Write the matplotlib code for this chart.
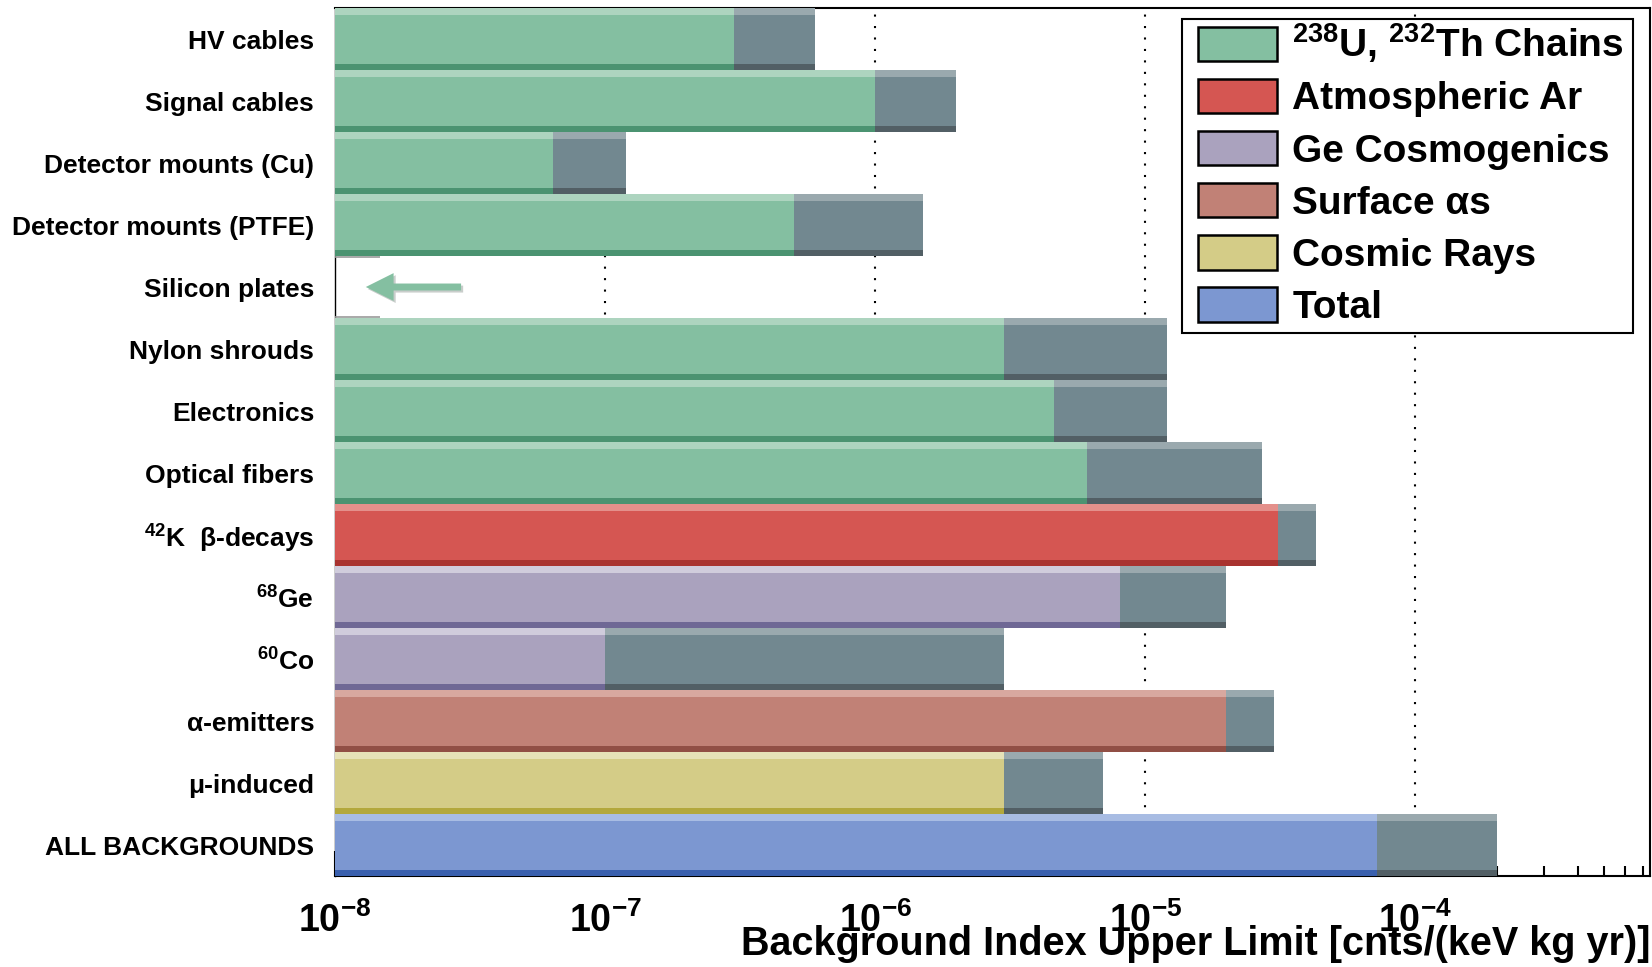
import numpy as np
import matplotlib
matplotlib.use("Agg")
import matplotlib.pyplot as plt
from matplotlib.patches import Patch, Rectangle
from matplotlib.ticker import FixedLocator, FuncFormatter, LogLocator, NullFormatter
import matplotlib.patheffects as pe

plt.rcParams['font.family'] = ['Liberation Sans', 'DejaVu Sans']
plt.rcParams['font.weight'] = 'bold'
plt.rcParams['mathtext.fontset'] = 'custom'
plt.rcParams['mathtext.rm'] = 'Liberation Sans'
plt.rcParams['mathtext.bf'] = 'Liberation Sans:bold'
plt.rcParams['mathtext.default'] = 'regular'

# ---------------- data ----------------
labels = ["HV cables", "Signal cables", "Detector mounts (Cu)", "Detector mounts (PTFE)",
          "Silicon plates", "Nylon shrouds", "Electronics", "Optical fibers",
          "$^{42}$K  \u03b2-decays", "$^{68}$Ge", "$^{60}$Co", "\u03b1-emitters",
          "\u03bc-induced", "ALL BACKGROUNDS"]
categories = ["U/Th", "U/Th", "U/Th", "U/Th", "U/Th", "U/Th", "U/Th", "U/Th",
              "Ar", "Ge", "Ge", "alpha", "cosmic", "total"]
central = [3.0e-7, 1.0e-6, 6.4e-8, 5.0e-7, np.nan, 3.0e-6, 4.6e-6, 6.1e-6,
           3.1e-5, 8.1e-6, 1.0e-7, 2.0e-5, 3.0e-6, 7.2e-5]
upper = [6.0e-7, 2.0e-6, 1.2e-7, 1.5e-6, np.nan, 1.2e-5, 1.2e-5, 2.7e-5,
         4.3e-5, 2.0e-5, 3.0e-6, 3.0e-5, 7.0e-6, 2.0e-4]
silicon_box = 1.47e-8          # tiny empty outline for the silicon plates row
silicon_arrow = (3.0e-8, 1.27e-8)  # upper limit arrow (tail, tip)
legend_labels = ["$^{238}$U, $^{232}$Th Chains", "Atmospheric Ar", "Ge Cosmogenics",
                 "Surface \u03b1s", "Cosmic Rays", "Total"]
legend_keys = ["U/Th", "Ar", "Ge", "alpha", "cosmic", "total"]
xmin, xmax = 1e-8, 7.4e-4

# ---------------- styles ----------------
palette = {  # main, top highlight, bottom shade
    "U/Th":   ("#84bfa1", "#add4bf", "#4b9371"),
    "Ar":     ("#d55652", "#e4908b", "#a93330"),
    "Ge":     ("#aaa2be", "#d0ccdc", "#6f6895"),
    "alpha":  ("#c18176", "#d8a89f", "#914f45"),
    "cosmic": ("#d4cc87", "#e6e2b8", "#b3a83c"),
    "total":  ("#7c97d1", "#a8bce3", "#3a60ae"),
}
gray = ("#728890", "#9aa9ae", "#525f65")

W, H = 1652, 967
fig = plt.figure(figsize=(W / 100, H / 100), dpi=100)
ax = fig.add_axes([335 / W, 1 - 876 / H, (1650 - 335) / W, (876 - 8) / H])
ax.set_xscale('log')
ax.set_xlim(xmin, xmax)
ax.set_ylim(13.5, -0.5)

ytop_h, ybot_h = 0.11, 0.09


def draw_bar(y, value, cols, z):
    w = value - xmin
    ax.barh(y, w, left=xmin, height=1.0, color=cols[0], linewidth=0, zorder=z)
    ax.barh(y - 0.5 + ytop_h / 2, w, left=xmin, height=ytop_h, color=cols[1], linewidth=0, zorder=z)
    ax.barh(y + 0.5 - ybot_h / 2, w, left=xmin, height=ybot_h, color=cols[2], linewidth=0, zorder=z)


ypos = np.arange(len(labels))
for y, c, u, cat in zip(ypos, central, upper, categories):
    if np.isfinite(u):
        draw_bar(y, u, gray, 3)
    if np.isfinite(c):
        draw_bar(y, c, palette[cat], 4)

# silicon plates row: empty outline + arrow
si = labels.index("Silicon plates")
ax.hlines([si - 0.48, si + 0.48], xmin, silicon_box, color="#999999", lw=1.2, zorder=4)
ax.annotate('', xy=(silicon_arrow[1], si), xytext=(silicon_arrow[0], si),
            arrowprops=dict(arrowstyle='simple,head_length=1.0,head_width=1.0,tail_width=0.25',
                            mutation_scale=20, color=palette["U/Th"][0], lw=0,
                            path_effects=[pe.withSimplePatchShadow(offset=(1.5, -1.5), alpha=0.25)]),
            zorder=5)

# grid (dotted, at decades)
for d in [1e-7, 1e-6, 1e-5, 1e-4]:
    ax.axvline(d, color='black', lw=1.5, ls=(0, (1, 4.5)), zorder=1)

# ticks
ax.xaxis.set_major_locator(FixedLocator([1e-8, 1e-7, 1e-6, 1e-5, 1e-4]))
ax.xaxis.set_major_formatter(FuncFormatter(lambda v, p: r'$\mathbf{10^{%d}}$' % round(np.log10(v))))
ax.xaxis.set_minor_locator(LogLocator(base=10, subs=np.arange(2, 10), numticks=20))
ax.xaxis.set_minor_formatter(NullFormatter())
ax.tick_params(axis='x', which='major', direction='in', length=18, width=1.5, labelsize=27, pad=19)
ax.tick_params(axis='x', which='minor', direction='in', length=7, width=1.5)
ax.tick_params(axis='x', which='both', top=False)
ax.set_yticks(ypos)
ax.set_yticklabels(labels, fontsize=19, fontweight='bold')
ax.tick_params(axis='y', length=0, pad=15)

for s in ['top', 'right', 'bottom']:
    ax.spines[s].set_linewidth(1.5)
    ax.spines[s].set_color('black')
ax.spines['left'].set_linewidth(1.0)
ax.spines['left'].set_color('black')

ax.set_xlabel("Background Index Upper Limit [cnts/(keV kg yr)]", fontsize=28.5,
              fontweight='bold', loc='right', labelpad=-11)

# legend (entries without frame; frame drawn as a separate box)
frame = Rectangle((1182 / W, 1 - 333 / H), 451 / W, 314 / H, transform=fig.transFigure,
                  facecolor='white', edgecolor='black', linewidth=1.5, zorder=10)
fig.patches.append(frame)
handles = [Patch(facecolor=palette[k][0], edgecolor='black', linewidth=1.8) for k in legend_keys]
leg = fig.legend(handles, legend_labels, loc='upper left',
                 bbox_to_anchor=(1198 / W, 1 - 21.5 / H), bbox_transform=fig.transFigure,
                 prop={'weight': 'bold', 'size': 28}, frameon=False,
                 borderaxespad=0, borderpad=0, handlelength=2.03, handleheight=0.98,
                 handletextpad=0.4, labelspacing=0.35)
leg.set_zorder(11)

fig.savefig("out.png", dpi=100)
